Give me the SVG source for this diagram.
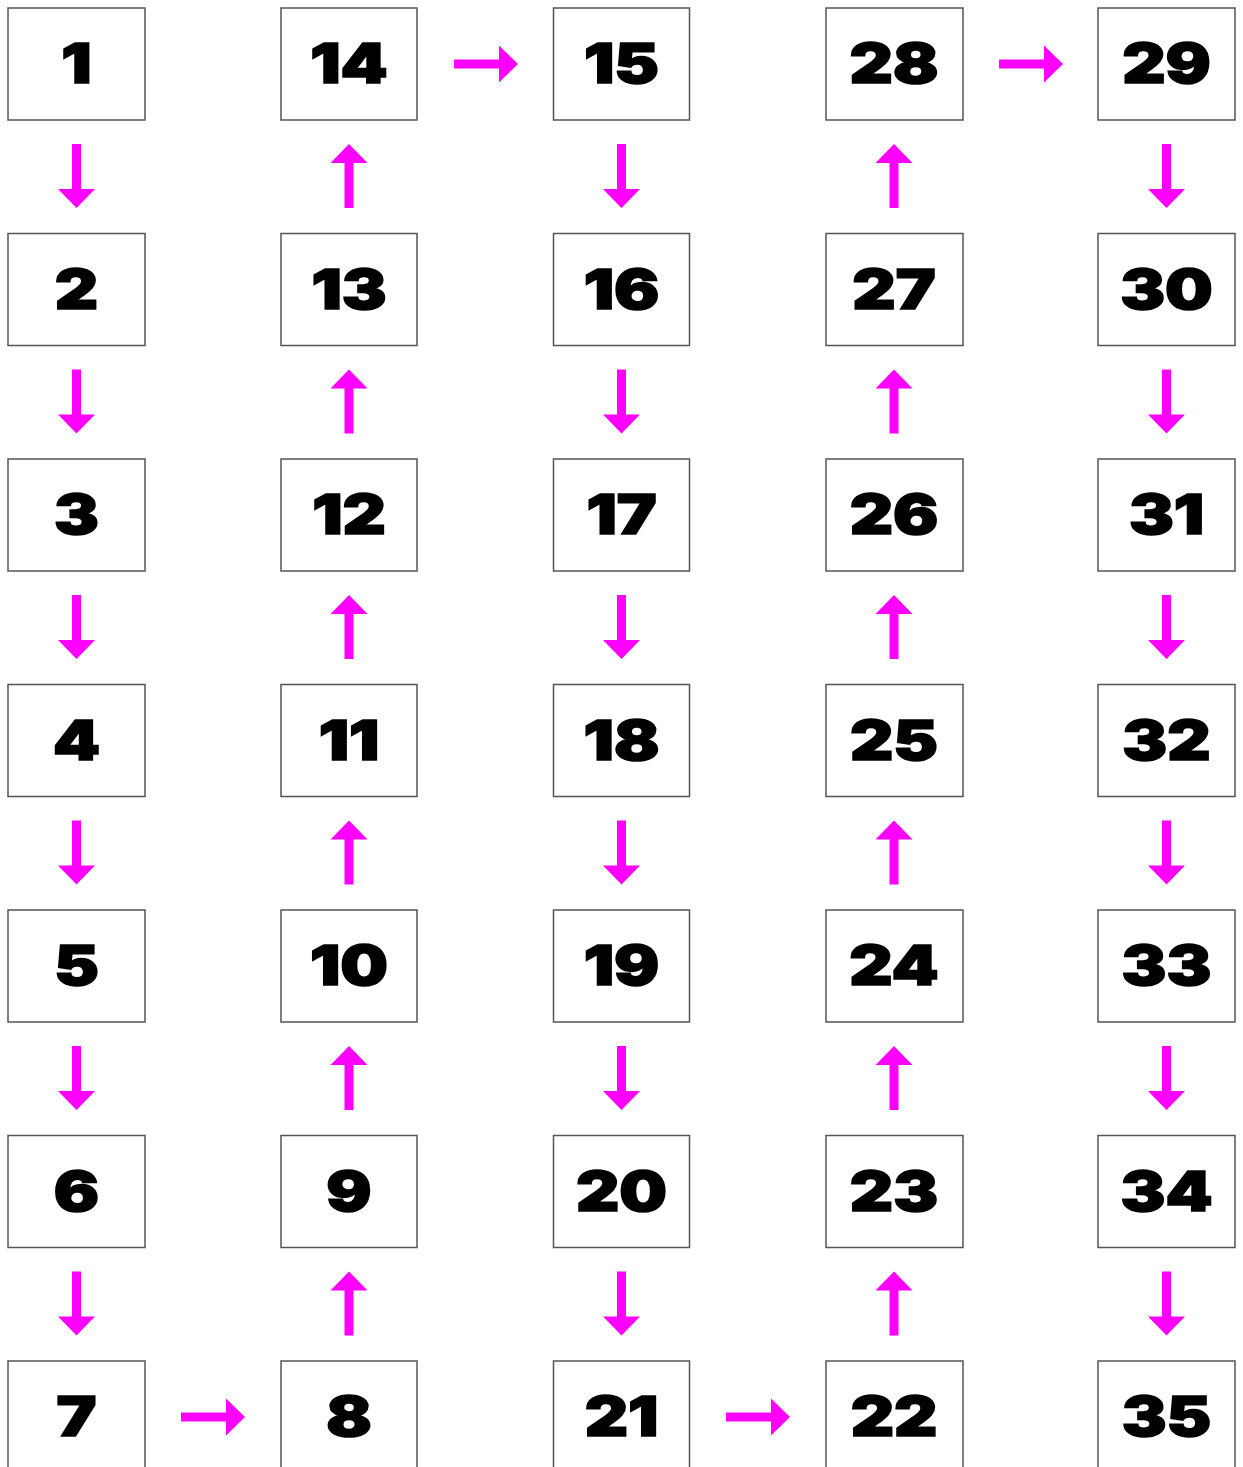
<svg xmlns="http://www.w3.org/2000/svg" xmlns:xlink="http://www.w3.org/1999/xlink" width="1243" height="1467" viewBox="0 0 1243 1467">
<style>
.box{fill:#fff;stroke:#555;stroke-width:1.5}
.lbl{font-family:Inter,"Liberation Sans",sans-serif;font-weight:900;font-size:55px;fill:#000;stroke:#000;stroke-width:1.6;text-anchor:middle}
.arr{fill:#ff00ff}
</style>
<defs>
<path id="a" d="M-4.5,0 H4.5 V45 H18.5 L0,64 L-18.5,45 H-4.5 Z"/>
</defs>
<rect width="1243" height="1467" fill="#fff"/>
<g id="connectors" class="arr">
<use xlink:href="#a" transform="translate(76.5,144)"/>
<use xlink:href="#a" transform="translate(76.5,369.5)"/>
<use xlink:href="#a" transform="translate(76.5,595)"/>
<use xlink:href="#a" transform="translate(76.5,820.5)"/>
<use xlink:href="#a" transform="translate(76.5,1046)"/>
<use xlink:href="#a" transform="translate(76.5,1271.5)"/>
<use xlink:href="#a" transform="translate(181,1417) rotate(-90)"/>
<use xlink:href="#a" transform="translate(349,1335.5) rotate(180)"/>
<use xlink:href="#a" transform="translate(349,1110) rotate(180)"/>
<use xlink:href="#a" transform="translate(349,884.5) rotate(180)"/>
<use xlink:href="#a" transform="translate(349,659) rotate(180)"/>
<use xlink:href="#a" transform="translate(349,433.5) rotate(180)"/>
<use xlink:href="#a" transform="translate(349,208) rotate(180)"/>
<use xlink:href="#a" transform="translate(454,64) rotate(-90)"/>
<use xlink:href="#a" transform="translate(621.5,144)"/>
<use xlink:href="#a" transform="translate(621.5,369.5)"/>
<use xlink:href="#a" transform="translate(621.5,595)"/>
<use xlink:href="#a" transform="translate(621.5,820.5)"/>
<use xlink:href="#a" transform="translate(621.5,1046)"/>
<use xlink:href="#a" transform="translate(621.5,1271.5)"/>
<use xlink:href="#a" transform="translate(726,1417) rotate(-90)"/>
<use xlink:href="#a" transform="translate(894,1335.5) rotate(180)"/>
<use xlink:href="#a" transform="translate(894,1110) rotate(180)"/>
<use xlink:href="#a" transform="translate(894,884.5) rotate(180)"/>
<use xlink:href="#a" transform="translate(894,659) rotate(180)"/>
<use xlink:href="#a" transform="translate(894,433.5) rotate(180)"/>
<use xlink:href="#a" transform="translate(894,208) rotate(180)"/>
<use xlink:href="#a" transform="translate(999,64) rotate(-90)"/>
<use xlink:href="#a" transform="translate(1166.5,144)"/>
<use xlink:href="#a" transform="translate(1166.5,369.5)"/>
<use xlink:href="#a" transform="translate(1166.5,595)"/>
<use xlink:href="#a" transform="translate(1166.5,820.5)"/>
<use xlink:href="#a" transform="translate(1166.5,1046)"/>
<use xlink:href="#a" transform="translate(1166.5,1271.5)"/>
</g>
<g id="n1"><rect class="box" x="8" y="8" width="137" height="112"/><text class="lbl" transform="translate(76.5,83) scale(1.22,1)">1</text></g>
<g id="n2"><rect class="box" x="8" y="233.5" width="137" height="112"/><text class="lbl" transform="translate(76.5,308.5) scale(1.22,1)">2</text></g>
<g id="n3"><rect class="box" x="8" y="459" width="137" height="112"/><text class="lbl" transform="translate(76.5,534) scale(1.22,1)">3</text></g>
<g id="n4"><rect class="box" x="8" y="684.5" width="137" height="112"/><text class="lbl" transform="translate(76.5,759.5) scale(1.22,1)">4</text></g>
<g id="n5"><rect class="box" x="8" y="910" width="137" height="112"/><text class="lbl" transform="translate(76.5,985) scale(1.22,1)">5</text></g>
<g id="n6"><rect class="box" x="8" y="1135.5" width="137" height="112"/><text class="lbl" transform="translate(76.5,1210.5) scale(1.22,1)">6</text></g>
<g id="n7"><rect class="box" x="8" y="1361" width="137" height="112"/><text class="lbl" transform="translate(76.5,1436) scale(1.22,1)">7</text></g>
<g id="n8"><rect class="box" x="281" y="1361" width="136" height="112"/><text class="lbl" transform="translate(349,1436) scale(1.22,1)">8</text></g>
<g id="n9"><rect class="box" x="281" y="1135.5" width="136" height="112"/><text class="lbl" transform="translate(349,1210.5) scale(1.22,1)">9</text></g>
<g id="n10"><rect class="box" x="281" y="910" width="136" height="112"/><text class="lbl" transform="translate(349,985) scale(1.22,1)">10</text></g>
<g id="n11"><rect class="box" x="281" y="684.5" width="136" height="112"/><text class="lbl" transform="translate(349,759.5) scale(1.22,1)">11</text></g>
<g id="n12"><rect class="box" x="281" y="459" width="136" height="112"/><text class="lbl" transform="translate(349,534) scale(1.22,1)">12</text></g>
<g id="n13"><rect class="box" x="281" y="233.5" width="136" height="112"/><text class="lbl" transform="translate(349,308.5) scale(1.22,1)">13</text></g>
<g id="n14"><rect class="box" x="281" y="8" width="136" height="112"/><text class="lbl" transform="translate(349,83) scale(1.22,1)">14</text></g>
<g id="n15"><rect class="box" x="553.5" y="8" width="136" height="112"/><text class="lbl" transform="translate(621.5,83) scale(1.22,1)">15</text></g>
<g id="n16"><rect class="box" x="553.5" y="233.5" width="136" height="112"/><text class="lbl" transform="translate(621.5,308.5) scale(1.22,1)">16</text></g>
<g id="n17"><rect class="box" x="553.5" y="459" width="136" height="112"/><text class="lbl" transform="translate(621.5,534) scale(1.22,1)">17</text></g>
<g id="n18"><rect class="box" x="553.5" y="684.5" width="136" height="112"/><text class="lbl" transform="translate(621.5,759.5) scale(1.22,1)">18</text></g>
<g id="n19"><rect class="box" x="553.5" y="910" width="136" height="112"/><text class="lbl" transform="translate(621.5,985) scale(1.22,1)">19</text></g>
<g id="n20"><rect class="box" x="553.5" y="1135.5" width="136" height="112"/><text class="lbl" transform="translate(621.5,1210.5) scale(1.22,1)">20</text></g>
<g id="n21"><rect class="box" x="553.5" y="1361" width="136" height="112"/><text class="lbl" transform="translate(621.5,1436) scale(1.22,1)">21</text></g>
<g id="n22"><rect class="box" x="826" y="1361" width="137" height="112"/><text class="lbl" transform="translate(894,1436) scale(1.22,1)">22</text></g>
<g id="n23"><rect class="box" x="826" y="1135.5" width="137" height="112"/><text class="lbl" transform="translate(894,1210.5) scale(1.22,1)">23</text></g>
<g id="n24"><rect class="box" x="826" y="910" width="137" height="112"/><text class="lbl" transform="translate(894,985) scale(1.22,1)">24</text></g>
<g id="n25"><rect class="box" x="826" y="684.5" width="137" height="112"/><text class="lbl" transform="translate(894,759.5) scale(1.22,1)">25</text></g>
<g id="n26"><rect class="box" x="826" y="459" width="137" height="112"/><text class="lbl" transform="translate(894,534) scale(1.22,1)">26</text></g>
<g id="n27"><rect class="box" x="826" y="233.5" width="137" height="112"/><text class="lbl" transform="translate(894,308.5) scale(1.22,1)">27</text></g>
<g id="n28"><rect class="box" x="826" y="8" width="137" height="112"/><text class="lbl" transform="translate(894,83) scale(1.22,1)">28</text></g>
<g id="n29"><rect class="box" x="1098" y="8" width="137" height="112"/><text class="lbl" transform="translate(1166.5,83) scale(1.22,1)">29</text></g>
<g id="n30"><rect class="box" x="1098" y="233.5" width="137" height="112"/><text class="lbl" transform="translate(1166.5,308.5) scale(1.22,1)">30</text></g>
<g id="n31"><rect class="box" x="1098" y="459" width="137" height="112"/><text class="lbl" transform="translate(1166.5,534) scale(1.22,1)">31</text></g>
<g id="n32"><rect class="box" x="1098" y="684.5" width="137" height="112"/><text class="lbl" transform="translate(1166.5,759.5) scale(1.22,1)">32</text></g>
<g id="n33"><rect class="box" x="1098" y="910" width="137" height="112"/><text class="lbl" transform="translate(1166.5,985) scale(1.22,1)">33</text></g>
<g id="n34"><rect class="box" x="1098" y="1135.5" width="137" height="112"/><text class="lbl" transform="translate(1166.5,1210.5) scale(1.22,1)">34</text></g>
<g id="n35"><rect class="box" x="1098" y="1361" width="137" height="112"/><text class="lbl" transform="translate(1166.5,1436) scale(1.22,1)">35</text></g>
</svg>
